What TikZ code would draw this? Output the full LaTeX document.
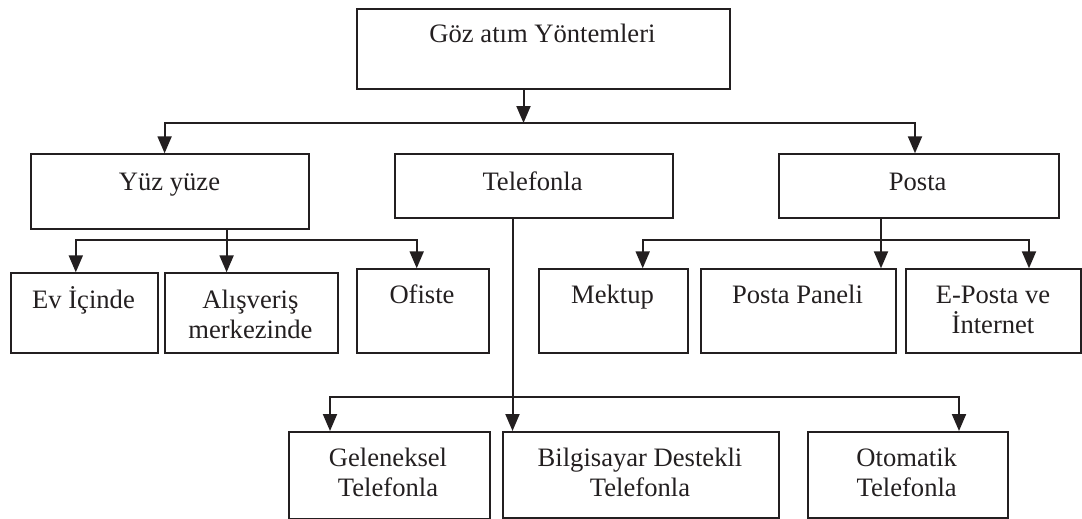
\documentclass[tikz,border=0pt]{standalone}
\usepackage{fontspec}
\setmainfont{Liberation Serif}
\usetikzlibrary{arrows.meta}
\definecolor{ink}{RGB}{35,31,32}
\begin{document}
\begin{tikzpicture}[x=1pt,y=-1pt,
  box/.style={draw=ink, line width=2pt, rectangle, anchor=north west, inner sep=0pt},
  lbl/.style={anchor=base, align=center, inner sep=0pt, text=ink,
              font=\fontsize{26.6}{30}\selectfont},
  wire/.style={draw=ink, line width=2pt},
  tip/.tip={Triangle[length=17pt,width=14pt]},
  arr/.style={wire, -tip},
  arrs/.style={wire, tip-tip}]
\useasboundingbox (0,0) rectangle (1082,519);

% ---- boxes ----
\node[box, minimum width=373pt,   minimum height=79.4pt] (top)  at (356,8.3)    {};
\node[box, minimum width=277.5pt, minimum height=75pt]   (yuz)  at (30,153.3)   {};
\node[box, minimum width=278pt,   minimum height=63.4pt] (tel)  at (393.6,153.3){};
\node[box, minimum width=279.5pt, minimum height=63.4pt] (pos)  at (778,153.3)  {};
\node[box, minimum width=146.4pt, minimum height=79.4pt] (ev)   at (10.3,272.3) {};
\node[box, minimum width=172.8pt, minimum height=79.4pt] (alis) at (164,272.3)  {};
\node[box, minimum width=132.6pt, minimum height=83.4pt] (ofis) at (355.7,268.3){};
\node[box, minimum width=149pt,   minimum height=83.4pt] (mek)  at (538,268.3)  {};
\node[box, minimum width=195pt,   minimum height=83.4pt] (ppan) at (700,268.3)  {};
\node[box, minimum width=175pt,   minimum height=83.4pt] (epos) at (905,268.3)  {};
\node[box, minimum width=201pt,   minimum height=87pt]   (gel)  at (287.7,431)  {};
\node[box, minimum width=276pt,   minimum height=86pt]   (bil)  at (502,431)    {};
\node[box, minimum width=200.5pt, minimum height=86pt]   (oto)  at (806.5,431)  {};

% ---- labels (anchored on the baseline of the last line) ----
\node[lbl] (top-t)  at (542.5,43) {Göz atım Yöntemleri};
\node[lbl] (yuz-t)  at (169.5,190) {Yüz yüze};
\node[lbl] (tel-t)  at (532.6,190) {Telefonla};
\node[lbl] (pos-t)  at (917.7,190) {Posta};
\node[lbl] (ev-t)   at (83.5,308)  {Ev İçinde};
\node[lbl] (alis-t) at (250.4,338) {Alışveriş\\merkezinde};
\node[lbl] (ofis-t) at (422,303)   {Ofiste};
\node[lbl] (mek-t)  at (612.5,303) {Mektup};
\node[lbl] (ppan-t) at (797.5,303) {Posta Paneli};
\node[lbl] (epos-t) at (993,333)   {E-Posta ve\\İnternet};
\node[lbl] (gel-t)  at (388,496)   {Geleneksel\\Telefonla};
\node[lbl] (bil-t)  at (640,496)   {Bilgisayar Destekli\\Telefonla};
\node[lbl] (oto-t)  at (906.7,496) {Otomatik\\Telefonla};

% ---- bus points ----
\coordinate (drop) at (523.5,123);
\coordinate (aL) at (164.6,123);  \coordinate (aR) at (915,123);
\coordinate (yB) at (226.6,240);
\coordinate (yL) at (75.8,240);   \coordinate (yR) at (416.7,240);
\coordinate (pB) at (881,240);
\coordinate (pL) at (642.7,240);  \coordinate (pR) at (1029,240);
\coordinate (tV) at (512.5,397);
\coordinate (gL) at (330,397);    \coordinate (gR) at (959,397);

% ---- connectors ----
\draw[arr]  (top.south -| drop) -- (drop);
\draw[arrs] (yuz.north -| aL) -- (aL) -- (aR) -- (pos.north -| aR);

\draw[wire] (yuz.south -| yB) -- (yB);
\draw[arrs] (ev.north -| yL) -- (yL) -- (yR) -- (ofis.north -| yR);
\draw[arr]  (yB) -- (alis.north -| yB);

\draw[wire] (pos.south -| pB) -- (pB);
\draw[arrs] (mek.north -| pL) -- (pL) -- (pR) -- (epos.north -| pR);
\draw[arr]  (pB) -- (ppan.north -| pB);

\draw[arr]  (tel.south -| tV) -- (bil.north -| tV);
\draw[arrs] (gel.north -| gL) -- (gL) -- (gR) -- (oto.north -| gR);
\end{tikzpicture}
\end{document}
